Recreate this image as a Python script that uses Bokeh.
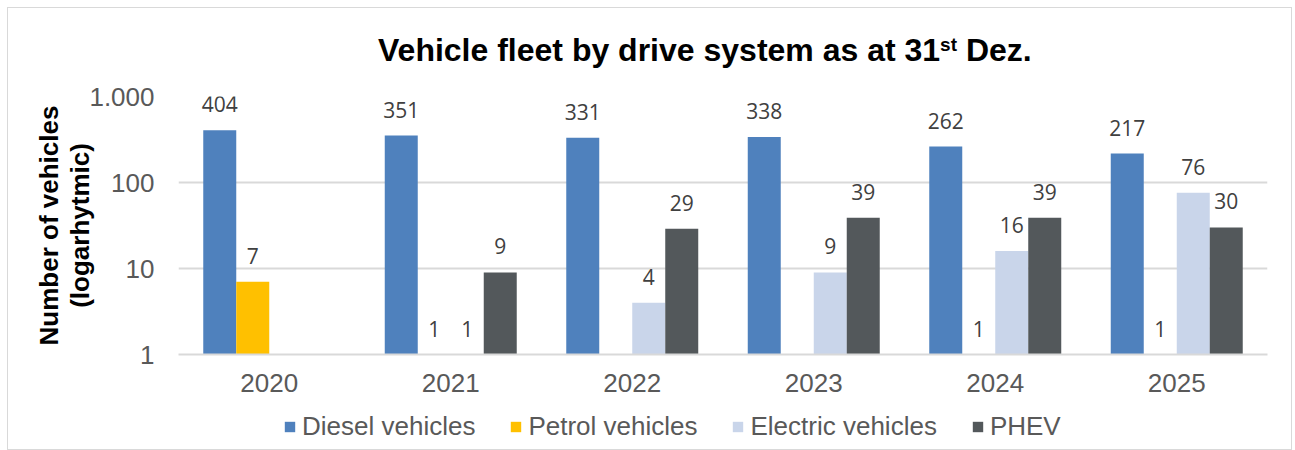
from bokeh.plotting import figure
from bokeh.layouts import column
from bokeh.models import (ColumnDataSource, FactorRange, Range1d, FixedTicker,
                          CustomJSTickFormatter, LabelSet, Legend, LegendItem, Div)
from bokeh.transform import dodge
from bokeh.core.properties import value
from bokeh.embed import file_html
from bokeh.resources import INLINE

# ---- data ----
years = ["2020", "2021", "2022", "2023", "2024", "2025"]
series = ["Diesel vehicles", "Petrol vehicles", "Electric vehicles", "PHEV"]
diesel = [404, 351, 331, 338, 262, 217]
petrol = [7, 1, None, None, 1, 1]
electric = [None, 1, 4, 9, 16, 76]
phev = [None, 9, 29, 39, 39, 30]
y_ticks = [1, 10, 100, 1000]
title_main = "Vehicle fleet by drive system as at 31"
title_sup = "st"
title_tail = " Dez."
y_label = "Number of vehicles\n(logarhytmic)"

colors = ["#4F81BD", "#FFC000", "#C9D5EA", "#53585B"]
offsets = [-0.2727, -0.0909, 0.0909, 0.2727]
bar_w = 0.1818

title_html = (
    '<div style="padding-left:370px; padding-top:26px; white-space:nowrap; '
    'font-family:\'Liberation Sans\', Arial, sans-serif; font-weight:bold; '
    'font-size:32px; line-height:32px; color:#000;">'
    f'{title_main}<sup style="font-size:19px; line-height:0; vertical-align:10px;">'
    f'{title_sup}</sup>{title_tail}</div>'
)
title_div = Div(text=title_html, width=1283, height=60, margin=0)

p = figure(x_range=FactorRange(factors=years), y_range=Range1d(1, 1000),
           y_axis_type="log", frame_width=1089, frame_height=258, title=None,
           output_backend="svg", toolbar_location=None, margin=0,
           min_border_left=170, min_border_right=23,
           min_border_top=28, min_border_bottom=52)
p.outline_line_color = None
p.background_fill_color = "white"
p.border_fill_color = "white"

for name, vals, col, off in zip(series, [diesel, petrol, electric, phev], colors, offsets):
    xs = [yr for yr, v in zip(years, vals) if v is not None]
    vs = [v for v in vals if v is not None]
    src = ColumnDataSource(dict(x=xs, top=vs, bottom=[1] * len(vs),
                                label=[str(v) for v in vs]))
    p.vbar(x=dodge("x", off, range=p.x_range), top="top", bottom="bottom",
           width=bar_w, source=src, fill_color=col, line_color=None)
    ls = LabelSet(x=dodge("x", off, range=p.x_range), y="top", text="label",
                  source=src, text_align="center", text_baseline="alphabetic",
                  y_offset=18, text_font=value("Open Sans"),
                  text_font_size=value("21px"), text_color="#404040")
    p.add_layout(ls)

# axes
p.xaxis.axis_line_color = "#D9D9D9"
p.xaxis.axis_line_width = 2
p.xaxis.major_tick_line_color = None
p.xaxis.minor_tick_line_color = None
p.xaxis.major_tick_out = 0
p.xaxis.major_label_standoff = 19
p.xaxis.major_label_text_font = "Liberation Sans"
p.xaxis.major_label_text_font_size = "26px"
p.xaxis.major_label_text_color = "#595959"
p.xgrid.grid_line_color = None

p.yaxis.ticker = FixedTicker(ticks=y_ticks, minor_ticks=[])
p.yaxis.formatter = CustomJSTickFormatter(
    code="return tick >= 1000 ? Math.round(tick/1000) + '.000' : Math.round(tick).toString();")
p.yaxis.axis_line_color = None
p.yaxis.major_tick_line_color = None
p.yaxis.minor_tick_line_color = None
p.yaxis.major_tick_out = 0
p.yaxis.major_tick_in = 0
p.yaxis.major_label_standoff = 24
p.yaxis.major_label_text_font = "Liberation Sans"
p.yaxis.major_label_text_font_size = "26px"
p.yaxis.major_label_text_color = "#595959"
p.yaxis.axis_label = y_label
p.yaxis.axis_label_text_font = "Liberation Sans"
p.yaxis.axis_label_text_font_size = "26px"
p.yaxis.axis_label_text_font_style = "bold"
p.yaxis.axis_label_text_color = "black"
p.yaxis.axis_label_text_line_height = 1.05
p.yaxis.axis_label_standoff = -9
p.ygrid.grid_line_color = "#D9D9D9"
p.ygrid.grid_line_width = 2

# legend strip (own small figure so the legend is not clipped)
pl = figure(width=1283, height=43, x_range=Range1d(0, 1), y_range=Range1d(0, 1),
            x_axis_location=None, y_axis_location=None, title=None,
            output_backend="svg", toolbar_location=None, margin=0,
            min_border_left=0, min_border_right=0, min_border_top=0,
            min_border_bottom=0)
pl.grid.visible = False
pl.outline_line_color = None
pl.background_fill_color = "white"
pl.border_fill_color = "white"
items = []
for name, col in zip(series, colors):
    # zero-size proxy bar: invisible, only provides the legend swatch
    proxy = ColumnDataSource(dict(x=[0.0], top=[0.0], bottom=[0.0]))
    r = pl.vbar(x="x", top="top", bottom="bottom", width=0, source=proxy,
                fill_color=col, line_color=None)
    items.append(LegendItem(label=name, renderers=[r]))
legend = Legend(items=items, orientation="horizontal", location=(105, 7),
                padding=0, margin=0, spacing=34, label_standoff=6,
                glyph_width=13, glyph_height=13,
                label_text_font="Liberation Sans", label_text_font_size="26px",
                label_text_color="#595959", border_line_color=None,
                background_fill_alpha=0)
pl.add_layout(legend, "center")

layout = column(title_div, p, pl, spacing=0)
layout.styles = {"border": "1px solid #D9D9D9", "margin-left": "7px",
                 "margin-top": "7px", "background-color": "white"}

open("out.html", "w").write(file_html(layout, INLINE))
